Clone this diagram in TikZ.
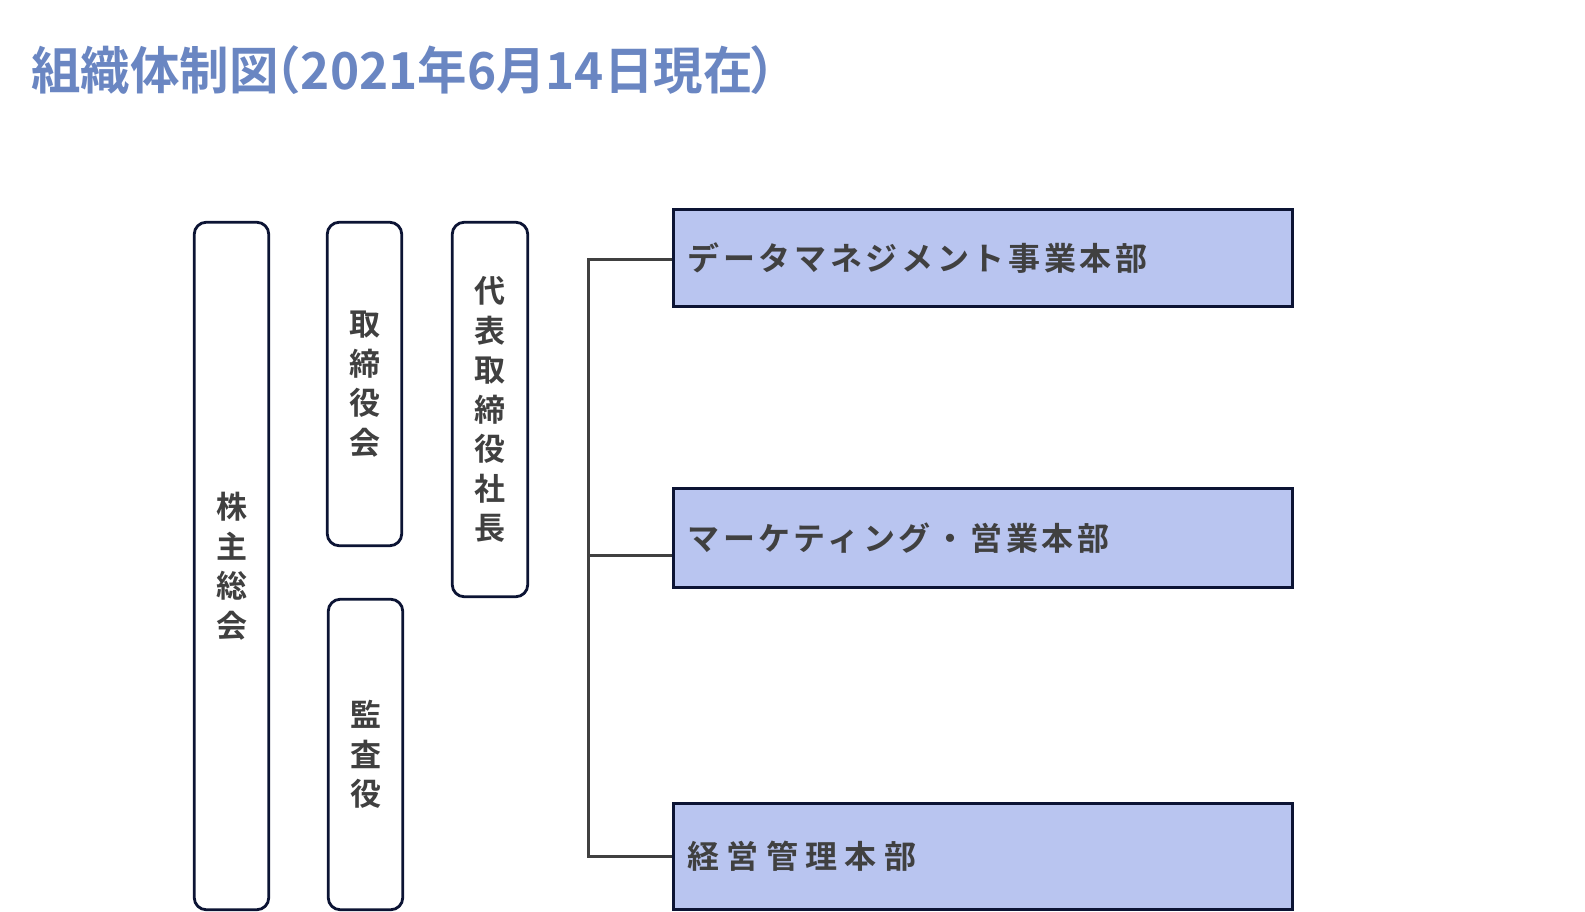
\documentclass[tikz,border=0pt]{standalone}
\usepackage{fontspec}
\setmainfont{Noto Sans CJK JP}
\newfontfamily\jpbold{Noto Sans CJK JP Bold}
\newfontfamily\jpboldA[LetterSpace=11.5]{Noto Sans CJK JP Bold}
\newfontfamily\jpboldB[LetterSpace=23]{Noto Sans CJK JP Bold}
\definecolor{titleblue}{RGB}{106,134,194}
\definecolor{navy}{RGB}{12,20,52}
\definecolor{deptfill}{RGB}{185,197,240}
\definecolor{textgray}{RGB}{64,64,64}
\begin{document}
\begin{tikzpicture}[x=1pt,y=-1pt,
  orgbox/.style={draw=navy, line width=2.8pt, rounded corners=12pt, fill=white,
    minimum width=74.5pt, inner sep=0pt, align=center, text=textgray,
    font=\jpbold\fontsize{31}{39.5}\selectfont},
  deptbox/.style={draw=navy, line width=3pt, fill=deptfill, text width=591pt,
    inner xsep=14pt, inner ysep=0pt, align=left, text=textgray},
  branch/.style={draw=textgray, line width=3pt}]
  \useasboundingbox (0,0) rectangle (1585,912);
  % Title
  \node[anchor=west, inner sep=0pt, text=titleblue, xscale=0.97, transform shape,
    font=\jpbold\fontsize{51}{51}\selectfont] (title) at (31,70)
    {組織体制図\kern-28pt（2021年6月14日現在\kern-3pt）};
  % Governance boxes
  \node[orgbox, minimum height=687.5pt] (soukai) at (231.5,566) {株\\主\\総\\会};
  \node[orgbox, minimum height=323.5pt] (torishimari) at (364.5,384) {取\\締\\役\\会};
  \node[orgbox, minimum height=310.5pt] (kansa) at (365.5,754.5) {監\\査\\役};
  \node[orgbox, minimum height=374.5pt, minimum width=75.5pt] (daihyo) at (490,409.5)
    {代\\表\\取\\締\\役\\社\\長};
  % Divisions
  \node[deptbox, minimum height=97pt, font=\jpboldA\fontsize{32}{32}\selectfont] (dm) at (983,258)
    {データマネジメント事業本部};
  \node[deptbox, minimum height=99pt, font=\jpboldA\fontsize{32}{32}\selectfont] (mk) at (983,538)
    {マーケティング・営業本部};
  \node[deptbox, minimum height=106pt, font=\jpboldB\fontsize{32}{32}\selectfont] (kk) at (983,856.5)
    {経営管理本部};
  % Connectors
  \coordinate (j1) at (588,259);
  \coordinate (j2) at (588,555);
  \coordinate (j3) at (588,856);
  \draw[branch] (j1 -| dm.west) -- (j1) -- (j3) -- (j3 -| kk.west);
  \draw[branch] (j2) -- (j2 -| mk.west);
\end{tikzpicture}
\end{document}
